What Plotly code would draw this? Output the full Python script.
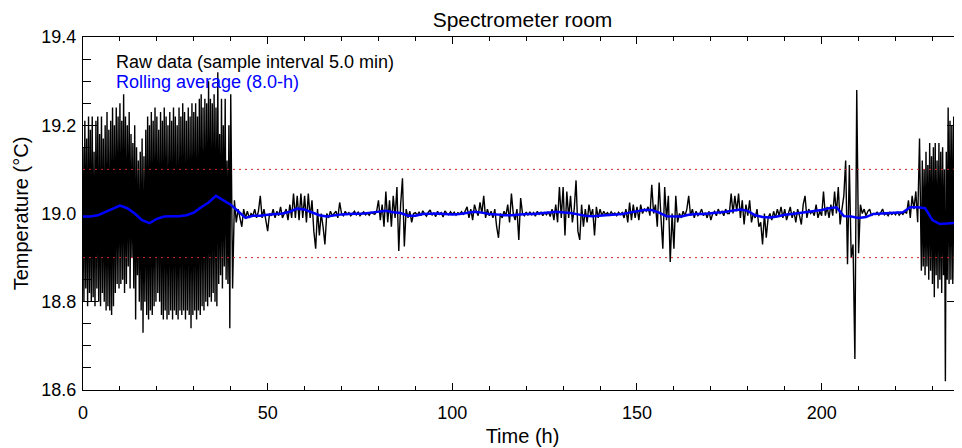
import numpy as np
import plotly.graph_objects as go

# ---------------- data ----------------
# Raw temperature (deg C), in time blocks (h). Dense blocks at 0.25 h, quiet blocks at 0.5 h.
raw_00_10 = [19.15,18.80,19.21,18.83,19.17,18.79,19.22,18.82,19.19,18.80,
             19.22,18.81,19.14,18.79,19.21,18.83,19.22,18.80,19.18,18.79,
             19.22,18.82,19.17,18.80,19.20,18.78,19.23,18.79,19.19,18.78,
             19.21,18.77,19.24,18.79,19.20,18.82,19.24,18.84,19.22,18.83]
raw_10_20 = [19.25,18.84,19.21,18.85,19.27,18.82,19.22,18.84,19.20,18.88,
             19.23,18.83,19.18,18.90,19.16,18.83,19.20,18.76,19.15,18.86,
             19.12,18.80,19.14,18.78,19.17,18.73,19.13,18.80,19.19,18.77,
             19.22,18.76,19.20,18.78,19.23,18.77,19.21,18.79,19.24,18.80]
raw_20_30 = [19.22,18.82,19.19,18.80,19.23,18.77,19.21,18.76,19.24,18.78,
             19.22,18.76,19.20,18.77,19.23,18.78,19.21,18.76,19.24,18.78,
             19.22,18.77,19.20,18.76,19.24,18.78,19.22,18.77,19.25,18.78,
             19.23,18.76,19.21,18.78,19.24,18.77,19.22,18.74,19.25,18.77]
raw_30_40 = [19.23,18.78,19.25,18.76,19.22,18.78,19.26,18.77,19.27,18.79,
             19.24,18.78,19.26,18.80,19.25,18.79,19.30,18.81,19.26,18.80,
             19.25,18.82,19.27,18.80,19.24,18.79,19.32,18.84,19.18,18.86,
             19.26,18.83,19.20,18.88,19.26,18.85,19.12,18.84,19.20,18.74]
raw_40_50 = [19.27,18.83,19.03,18.98,19.01,18.99,18.97,19.01,18.99,19.005,
             18.99,19.0,18.995,19.01,18.99,19.005,19.04,18.99,19.01,18.985]
raw_50_60 = [18.96,19.0,18.995,19.01,18.99,19.005,18.995,19.015,18.99,19.0,
             19.01,18.985,19.02,18.99,19.045,18.99,19.04,18.985,19.045,18.99]
raw_60_70 = [19.04,18.98,19.045,18.99,19.03,18.96,18.92,19.01,18.95,19.0,
             18.97,18.93,19.0,18.99,19.005,18.995,19.0,19.005,18.99,19.025]
raw_70_80 = [19.0,18.995,19.005,18.998,19.002,18.995,19.0,19.005,18.997,19.003,
             18.995,19.0,19.004,18.997,19.001,18.996,19.003,19.0,18.998,19.005]
raw_80_90 = [19.03,18.985,19.02,18.97,19.05,18.98,19.03,18.97,19.04,18.99,
             19.06,18.915,19.02,19.08,18.925,19.01,18.99,19.005,18.98,19.0]
raw_90_100 = [19.002,18.996,19.004,18.995,19.006,18.999,18.994,19.003,19.008,18.996,
              19.001,18.993,19.005,18.998,19.002,18.992,19.006,19.0,18.997,19.004]
raw_100_110 = [18.998,19.003,18.996,19.002,18.999,19.004,18.997,19.006,19.015,18.99,
               19.01,18.985,19.02,19.005,18.995,19.025,19.0,19.04,18.99,19.01]
raw_110_120 = [18.995,19.005,18.99,19.01,18.97,18.945,19.0,18.99,19.005,18.995,
               19.02,18.98,19.045,19.0,18.985,19.01,18.94,19.035,19.0,18.995]
raw_120_130 = [19.003,18.996,19.004,18.997,19.002,18.994,19.005,18.998,19.003,18.995,
               19.002,18.997,19.004,18.993,19.01,18.985,19.02,18.98,19.06,18.99]
raw_130_140 = [19.06,18.95,19.05,18.99,19.04,18.98,19.01,19.075,18.96,18.94,
               19.02,18.97,19.01,18.98,19.02,18.995,19.01,18.95,19.015,18.99]
raw_140_150 = [19.01,18.995,19.005,18.997,19.002,18.996,19.004,18.998,19.001,18.995,
               19.003,18.998,19.002,18.99,19.01,18.98,19.025,18.985,19.02,18.99]
raw_150_160 = [19.015,18.985,19.02,19.0,19.01,19.005,19.015,18.995,19.065,19.0,
               19.02,18.97,19.07,18.99,18.92,19.06,18.985,19.04,18.89,19.0]
raw_160_170 = [18.92,19.04,18.98,19.0,18.99,19.005,18.995,19.01,19.04,18.995,
               19.01,18.99,19.005,18.995,19.0,19.01,18.995,19.002,18.99,19.005]
raw_170_180 = [18.985,19.0,19.005,18.995,19.01,19.0,19.005,18.995,19.01,19.0,
               19.0,19.045,19.0,19.04,19.005,19.045,18.99,19.03,18.975,19.02]
raw_180_190 = [18.995,19.03,18.98,19.0,18.99,19.01,18.97,18.98,18.93,19.0,
               18.945,18.99,19.0,18.985,19.005,18.99,19.01,18.995,19.015,18.99]
raw_190_200 = [19.01,18.985,19.0,19.015,18.99,19.005,18.98,19.01,18.995,18.975,
               19.02,19.04,18.99,19.01,19.0,19.005,18.995,19.02,18.99,19.005]
raw_200_210 = [18.995,19.05,18.995,19.015,18.99,19.02,18.995,19.05,19.0,19.06,
               18.975,19.01,19.04,19.12,18.885,19.11,18.90,18.93,18.67,19.28]
raw_210_220 = [18.91,19.02,19.0,19.01,18.995,19.005,19.01,18.995,19.0,18.998,
               19.003,18.996,19.002,19.01,18.997,19.001,18.995,19.003,18.998,19.002]
raw_220_227 = [18.997,19.004,18.996,19.002,18.998,19.005,19.0,19.03,18.99,19.04,
               19.01,19.05,18.98,19.17]
raw_227_238 = [18.87,19.12,18.88,19.10,18.86,19.14,18.88,19.11,18.85,19.16,
               18.87,19.13,18.84,19.15,18.81,19.16,18.86,19.12,18.83,19.16,
               18.85,19.14,18.82,19.15,18.86,19.10,18.62,19.14,18.85,19.24,
               18.84,19.21,18.85,19.20,18.84,19.22,18.85,19.20,18.84,19.21,
               18.85,19.20,18.84,19.21]

raw_blocks = [  # (block start h, block end h, values)
    (0, 10, raw_00_10), (10, 20, raw_10_20), (20, 30, raw_20_30), (30, 40, raw_30_40),
    (40, 50, raw_40_50), (50, 60, raw_50_60), (60, 70, raw_60_70), (70, 80, raw_70_80),
    (80, 90, raw_80_90), (90, 100, raw_90_100), (100, 110, raw_100_110),
    (110, 120, raw_110_120), (120, 130, raw_120_130), (130, 140, raw_130_140),
    (140, 150, raw_140_150), (150, 160, raw_150_160), (160, 170, raw_160_170),
    (170, 180, raw_170_180), (180, 190, raw_180_190), (190, 200, raw_190_200),
    (200, 210, raw_200_210), (210, 220, raw_210_220), (220, 227, raw_220_227),
    (227, 238, raw_227_238),
]

# 8-h rolling average (deg C), every 2 h from 0 to 238 h
avg_values = [18.993,18.993,18.996,19.003,19.010,19.018,19.012,19.000,18.985,18.978,
              18.988,18.993,18.994,18.994,18.996,19.002,19.014,19.025,19.040,19.030,
              19.020,19.005,18.990,18.995,18.995,18.997,18.998,19.000,19.004,19.011,
              19.009,19.002,18.996,18.993,18.996,18.998,18.999,18.999,19.000,19.002,
              19.004,19.006,19.003,19.001,18.995,18.995,18.999,19.000,19.000,18.999,
              18.998,18.999,19.002,19.004,19.002,18.999,18.998,18.996,18.996,18.998,
              18.999,18.999,19.000,19.002,19.004,19.003,19.001,18.998,18.995,18.994,
              18.995,18.996,18.997,18.999,19.002,19.005,19.008,19.008,19.002,18.994,
              18.993,18.993,18.997,18.999,18.999,19.000,19.002,19.004,19.007,19.009,
              19.006,18.996,18.992,18.991,18.993,18.997,18.999,19.001,19.003,19.005,
              19.008,19.012,19.014,18.994,18.993,18.990,18.992,18.999,19.000,19.000,
              19.001,19.003,19.014,19.014,19.012,18.985,18.976,18.977,18.978,18.980]
avg_start, avg_end = 0, 238

threshold_levels = [18.9, 19.1]

title_text = "Spectrometer room"
x_title = "Time (h)"
y_title = "Temperature (°C)"
legend_raw = "Raw data (sample interval 5.0 min)"
legend_avg = "Rolling average (8.0-h)"

# ---------------- build series ----------------
t_raw = np.concatenate([np.linspace(a, b, len(v), endpoint=False) for a, b, v in raw_blocks])
y_raw = np.concatenate([np.array(v, dtype=float) for a, b, v in raw_blocks])
t_avg = np.linspace(avg_start, avg_end, len(avg_values))

FONT = "Liberation Sans, Arial, Helvetica, sans-serif"

# page body has an 8 px margin: figure is 954x440, drawn at (8, 8)
W, H = 954, 440
ML, MT = 75, 29
PW, PH = 879, 353

fig = go.Figure()
fig.add_trace(go.Scatter(x=t_raw, y=y_raw, mode="lines",
                         line=dict(color="black", width=1.4, simplify=False), name=legend_raw,
                         showlegend=False))
fig.add_trace(go.Scatter(x=t_avg, y=avg_values, mode="lines",
                         line=dict(color="#0000ff", width=2.5), name=legend_avg,
                         showlegend=False))

for lvl in threshold_levels:
    fig.add_shape(type="line", xref="paper", x0=0, x1=1, yref="y", y0=lvl, y1=lvl,
                  line=dict(color="rgb(200,40,40)", width=1, dash="2px,4px"),
                  layer="above")

fig.add_annotation(text=legend_raw, xref="paper", yref="paper", x=0.035, y=0.93,
                   xanchor="left", yanchor="middle", showarrow=False,
                   font=dict(size=18, color="black", family=FONT))
fig.add_annotation(text=legend_avg, xref="paper", yref="paper", x=0.035, y=0.873,
                   xanchor="left", yanchor="middle", showarrow=False,
                   font=dict(size=18, color="#0000ff", family=FONT))

fig.update_layout(
    width=W, height=H,
    margin=dict(l=ML, r=W - ML - PW, t=MT, b=H - MT - PH, autoexpand=False),
    paper_bgcolor="white", plot_bgcolor="white",
    font=dict(family=FONT, color="black", size=18),
    title=dict(text=title_text, x=(ML + PW / 2) / W, xanchor="center",
               y=1 - 12 / H, yanchor="middle", yref="container",
               font=dict(size=21, family=FONT, color="black")),
    showlegend=False,
)
fig.update_xaxes(range=[0, 238], showline=True, linecolor="black", linewidth=1,
                 mirror="allticks", ticks="inside", ticklen=7, tickwidth=1,
                 tickcolor="black", tick0=0, dtick=50, showgrid=False, zeroline=False,
                 tickfont=dict(size=18), ticklabelstandoff=6, automargin=False,
                 minor=dict(dtick=10, ticks="inside", ticklen=4, tickcolor="black",
                            tickwidth=1, showgrid=False),
                 title=dict(text=x_title, font=dict(size=20), standoff=7))
fig.update_yaxes(range=[18.6, 19.4], showline=True, linecolor="black", linewidth=1,
                 mirror="allticks", ticks="inside", ticklen=15, tickwidth=1,
                 tickcolor="black", tick0=18.6, dtick=0.2, tickformat=".1f",
                 showgrid=False, zeroline=False, tickfont=dict(size=18),
                 ticklabelstandoff=2, automargin=False,
                 minor=dict(dtick=0.05, ticks="inside", ticklen=8, tickcolor="black",
                            tickwidth=1, showgrid=False),
                 title=dict(text=y_title, font=dict(size=20), standoff=7))

fig.write_html("out.html")
